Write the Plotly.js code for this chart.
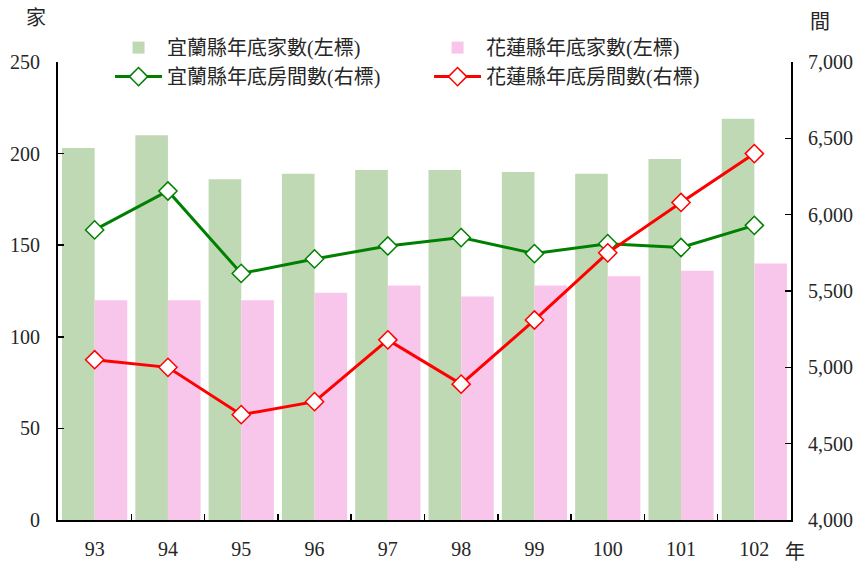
<!DOCTYPE html>
<html><head><meta charset="utf-8">
<script src="https://cdn.plot.ly/plotly-3.0.1.min.js"></script>
<style>html,body{margin:0;padding:0;background:#fff}</style>
</head><body>
<div id="chart" style="width:853px;height:566px"></div>
<script>
const years = ['93','94','95','96','97','98','99','100','101','102'];
const yilanHotels = [203,210,186,189,191,191,190,189,197,219];
const hualienHotels = [120,120,120,124,128,122,128,133,136,140];
const yilanRooms = [5900,6155,5615,5710,5795,5850,5745,5810,5785,5930];
const hualienRooms = [5050,5000,4690,4775,5180,4890,5310,5750,6080,6400];
const seriesNames = ['宜蘭縣年底家數(左標)','花蓮縣年底家數(左標)','宜蘭縣年底房間數(右標)','花蓮縣年底房間數(右標)'];

const serif = 'Liberation Serif, "Times New Roman", "Noto Sans CJK TC", serif';
const cjk = 'Liberation Serif, "Noto Sans CJK TC", serif';
const txt = '#262626';

const traces = [
  {type:'bar', x:years, y:yilanHotels, name:seriesNames[0], marker:{color:'#BFD9B5'}, yaxis:'y'},
  {type:'bar', x:years, y:hualienHotels, name:seriesNames[1], marker:{color:'#F8C6EA'}, yaxis:'y'},
  {type:'scatter', mode:'lines+markers', x:years, y:yilanRooms, name:seriesNames[2], yaxis:'y2',
   line:{color:'#008000', width:3}, marker:{symbol:'diamond', size:14, color:'#ffffff', line:{color:'#008000', width:1.5}}},
  {type:'scatter', mode:'lines+markers', x:years, y:hualienRooms, name:seriesNames[3], yaxis:'y2',
   line:{color:'#FF0000', width:3}, marker:{symbol:'diamond', size:14, color:'#ffffff', line:{color:'#FF0000', width:1.5}}}
];

const layout = {
  width:853, height:566,
  margin:{l:58, r:62, t:62, b:46, autoexpand:false},
  paper_bgcolor:'#ffffff', plot_bgcolor:'#ffffff',
  font:{family:serif, size:20, color:txt},
  barmode:'group', bargap:0.11, bargroupgap:0,
  showlegend:true,
  legend:{orientation:'h', x:0.071, y:1.074, xanchor:'left', yanchor:'top',
          entrywidth:257, entrywidthmode:'pixels', itemwidth:47, font:{family:cjk, size:20, color:txt},
          bgcolor:'rgba(0,0,0,0)', traceorder:'normal', itemclick:false},
  xaxis:{type:'category', range:[-0.5, 9.5], automargin:false, showline:true, linecolor:'#000', linewidth:2, ticks:'inside', ticklen:6,
         tickcolor:'#000', tickwidth:1.5, tickson:'boundaries', showgrid:false, zeroline:false,
         tickfont:{family:serif, size:20, color:txt}, ticklabelstandoff:10},
  yaxis:{range:[0,250], dtick:50, automargin:false, showline:true, linecolor:'#000', linewidth:2, ticks:'inside', ticklen:6,
         tickcolor:'#000', tickwidth:1.5, showgrid:false, zeroline:false,
         tickfont:{family:serif, size:20, color:txt}, ticklabelstandoff:12},
  yaxis2:{range:[4000,7000], dtick:500, overlaying:'y', side:'right', automargin:false, showline:true, linecolor:'#000', linewidth:2,
          ticks:'inside', ticklen:6, tickcolor:'#000', tickwidth:1.5, showgrid:false, zeroline:false,
          tickformat:',.0f', tickfont:{family:serif, size:20, color:txt}, ticklabelstandoff:11},
  annotations:[
    {text:'家', xref:'paper', yref:'paper', x:-0.030, y:1.096, showarrow:false, xanchor:'center', yanchor:'middle', font:{family:cjk, size:20, color:txt}},
    {text:'間', xref:'paper', yref:'paper', x:1.0396, y:1.087, showarrow:false, xanchor:'center', yanchor:'middle', font:{family:cjk, size:20, color:txt}},
    {text:'年', xref:'paper', yref:'paper', x:1.0055, y:-0.070, showarrow:false, xanchor:'center', yanchor:'middle', font:{family:cjk, size:20, color:txt}}
  ]
};

Plotly.newPlot('chart', traces, layout, {displayModeBar:false, staticPlot:true});
</script>
</body></html>
